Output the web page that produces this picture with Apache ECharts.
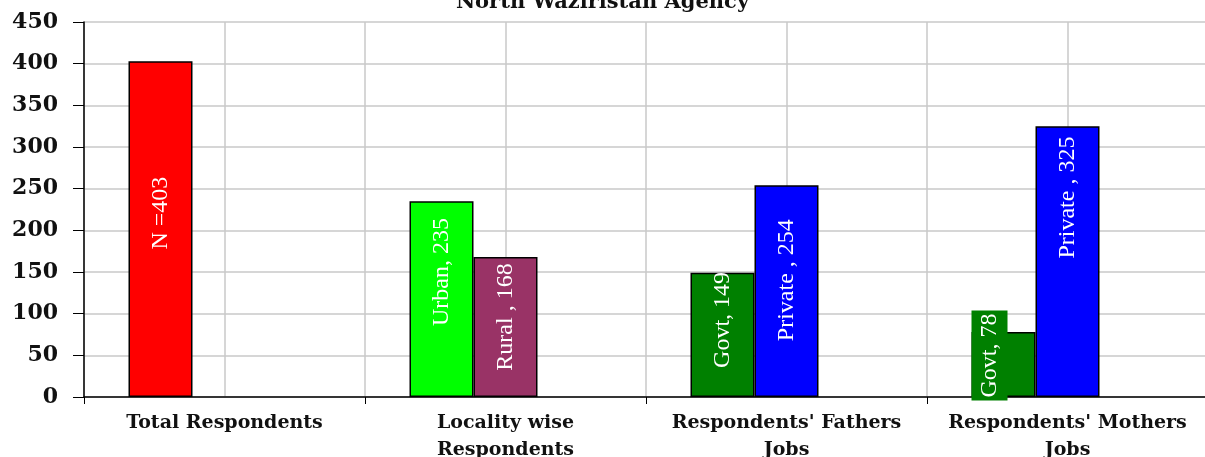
<!DOCTYPE html>
<html>
<head>
<meta charset="utf-8">
<script src="https://cdn.jsdelivr.net/npm/echarts@6/dist/echarts.min.js"></script>
<style>
  html, body { margin: 0; padding: 0; background: #fff; }
  #chart { width: 1205px; height: 457px; }
</style>
</head>
<body>
<div id="chart"></div>
<script>
    var categories = ['Total Respondents', 'Locality wise\nRespondents', "Respondents' Fathers\nJobs", "Respondents' Mothers\nJobs"];
    var firstValues = [403, 235, 149, 78];
    var firstNames = ['N =403', 'Urban, 235', 'Govt, 149', 'Govt, 78'];
    var firstColors = ['#ff0000', '#00ff00', '#008000', '#008000'];
    var secondValues = [null, 168, 254, 325];
    var secondNames = ['', 'Rural , 168', 'Private , 254', 'Private , 325'];
    var secondColors = ['#ff0000', '#993366', '#0000ff', '#0000ff'];
    var yTicks = [0, 450, 50];

    // label nudges (px, upward) to follow the hand-placed labels of the original
    var firstLift = [16, 27, 15, 9];
    var secondLift = [0, 10, 11, 64];

    var serif = '"Liberation Serif", "Times New Roman", serif';
    var wideSerif = '"DejaVu Serif", serif';
    var dom = document.getElementById('chart');
    var myChart = echarts.init(dom);

    function makeData(values, names, colors, lift) {
        return values.map(function (v, i) {
            if (v === null) return '-';
            var item = {
                value: v,
                name: names[i],
                itemStyle: { color: colors[i] },
                label: { offset: [lift[i], 0] }
            };
            if (names[i] === 'Govt, 78') {
                item.label = {
                    backgroundColor: '#008000',
                    padding: [6, 3, 6, 3],
                    offset: [lift[i], -14]
                };
            }
            return item;
        });
    }

    var barLabel = {
        show: true,
        position: 'inside',
        rotate: 90,
        color: '#ffffff',
        fontFamily: serif,
        fontSize: 24,
        formatter: function (p) { return p.data.name; }
    };

    var option = {
        animation: false,
        title: {
            text: 'North Waziristan Agency',
            left: 'center',
            top: -13,
            textStyle: { fontFamily: wideSerif, fontSize: 21, fontWeight: 'bold', color: '#111' }
        },
        grid: { left: 84, right: -3, top: 22, bottom: 60, outerBoundsMode: 'none' },
        xAxis: [{
            type: 'category',
            data: categories,
            axisLine: { lineStyle: { color: '#000', width: 1.5 } },
            axisTick: { show: true, length: 7, lineStyle: { color: '#000' } },
            axisLabel: {
                interval: 0,
                color: '#111',
                fontFamily: wideSerif,
                fontSize: 19,
                fontWeight: 'bold',
                lineHeight: 27,
                margin: 13
            },
            splitLine: { show: false }
        }, {
            type: 'category',
            data: ['a', 'b', 'c', 'd', 'e', 'f', 'g', 'h'],
            position: 'bottom',
            axisLine: { show: false },
            axisTick: { show: false },
            axisLabel: { show: false },
            splitLine: { show: true, lineStyle: { color: '#c8c8c8', width: 1.5 } }
        }],
        yAxis: {
            type: 'value',
            min: yTicks[0],
            max: yTicks[1],
            interval: yTicks[2],
            axisLine: { show: true, lineStyle: { color: '#000', width: 1.5 } },
            axisTick: { show: true, length: 11, lineStyle: { color: '#000' } },
            axisLabel: {
                color: '#111',
                fontFamily: wideSerif,
                fontSize: 22,
                fontWeight: 'bold',
                margin: 26
            },
            splitLine: { show: true, lineStyle: { color: '#c8c8c8', width: 1.5 } }
        },
        series: [
            {
                type: 'bar',
                barWidth: 64,
                barGap: '0%',
                data: makeData(firstValues, firstNames, firstColors, firstLift),
                itemStyle: { borderColor: '#000', borderWidth: 1.5 },
                label: barLabel
            },
            {
                type: 'bar',
                barWidth: 64,
                barGap: '0%',
                data: makeData(secondValues, secondNames, secondColors, secondLift),
                itemStyle: { borderColor: '#000', borderWidth: 1.5 },
                label: barLabel
            },
            {
                type: 'bar',
                barWidth: 64,
                barGap: '0%',
                data: ['-', '-', '-', '-']
            }
        ]
    };
    myChart.setOption(option);
</script>
</body>
</html>
